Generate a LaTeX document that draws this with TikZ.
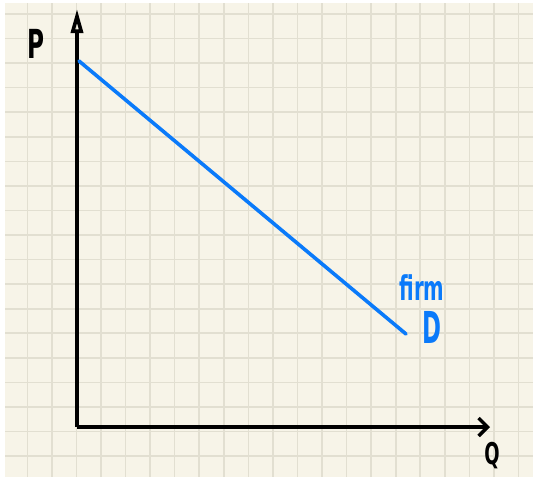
\documentclass[tikz,border=0pt]{standalone}
\usepackage{fontspec}
\usepackage{graphicx}
\setmainfont{DejaVu Sans}
\usetikzlibrary{arrows.meta}
\definecolor{paper}{RGB}{247,244,232}
\definecolor{gridc}{RGB}{226,223,209}
\definecolor{curveblue}{RGB}{10,122,250}
\tikzset{
  gridline/.style={draw=gridc, line width=1.6pt},
  axis/.style={draw=black, line width=4pt},
  demand/.style={draw=curveblue, line width=3.6pt},
  hand/.style={inner sep=0pt, font=\bfseries},
}
\begin{document}
\begin{tikzpicture}[x=1pt,y=-1pt]
\useasboundingbox (0,0) rectangle (533,477);
\fill[white] (0,0) rectangle (533,477);
\fill[paper] (5,3) rectangle (533,477);
% grid
\foreach \i in {0,...,20} {
  \draw[gridline] ({27.3+24.56*\i},3) -- ({27.3+24.56*\i},477);
}
\foreach \j in {0,...,18} {
  \draw[gridline] (5,{14+24.56*\j}) -- (533,{14+24.56*\j});
}
% axes
\coordinate (o) at (77,427);
\coordinate (ytop) at (77,9);
\coordinate (xend) at (490,427);
\draw[axis, -{Triangle[open, length=24pt, width=12pt, line width=3.6pt]}] (o) -- (ytop);
\draw[axis, -{Straight Barb[length=9pt, width=18pt, line width=3.4pt]}] (o) -- (xend);
% demand line
\coordinate (d1) at (79,61);
\coordinate (d2) at (406,334);
\draw[demand, line cap=round] (d1) -- (d2);
% labels
\node[hand, font=\fontsize{40}{44}\bfseries\selectfont] (P) at (36,44) {\scalebox{0.58}[1]{P}};
\node[hand, font=\fontsize{30}{34}\bfseries\selectfont] (Q) at (492,456) {\scalebox{0.6}[1]{Q}};
\node[hand, text=curveblue, font=\fontsize{34}{38}\bfseries\selectfont] (firm) at (422,288) {\scalebox{0.58}[1]{firm}};
\node[hand, text=curveblue, font=\fontsize{44}{48}\bfseries\selectfont] (D) at (432,327) {\scalebox{0.52}[1]{D}};
\end{tikzpicture}
\end{document}
